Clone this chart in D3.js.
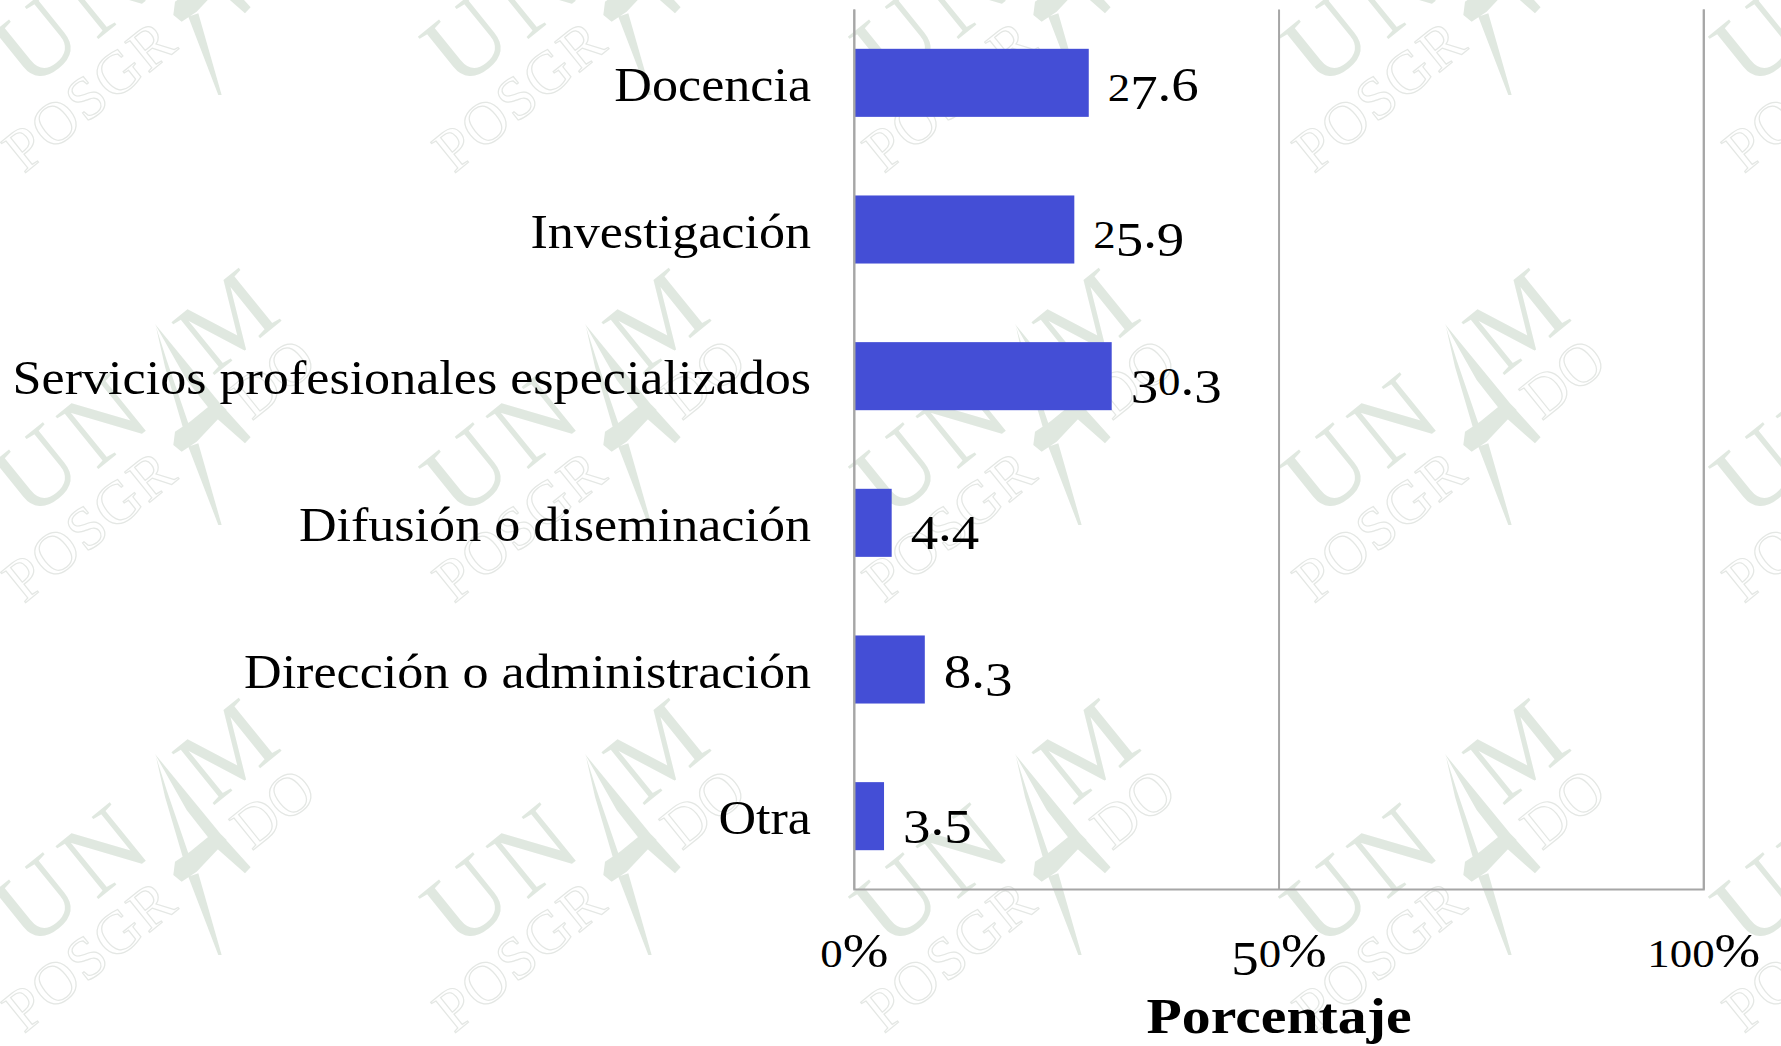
<!DOCTYPE html>
<html lang="es">
<head>
<meta charset="utf-8">
<script src="https://cdn.jsdelivr.net/npm/d3@7"></script>
<style>
html,body{margin:0;padding:0;background:#fff;}
svg{display:block;}
text{font-family:"Liberation Serif",serif;fill:#000;}
</style>
</head>
<body>
<svg id="chart" width="1781" height="1046"></svg>
<script>
const categories = ["Docencia","Investigación","Servicios profesionales especializados","Difusión o diseminación","Dirección o administración","Otra"];
const values = [27.6,25.9,30.3,4.4,8.3,3.5];
const tickValues = [0,50,100];
const axisTitle = "Porcentaje";

const W = 1781, H = 1046;
const svg = d3.select("#chart");
const x = d3.scaleLinear().domain([0,100]).range([854.3,1703.8]);
const y = d3.scaleBand().domain(categories).range([9.5,889.5]).paddingInner(0.536).paddingOuter(0.268);

// Watermark tiles
const green = "#e0e8e0", gray = "#e4e7e4";
const wm = svg.append("g").attr("class","watermark");
const tileOrigins = d3.cross(d3.range(0,5), [-180,250,680]);
tileOrigins.forEach(([i,oy])=>{
  const g = wm.append("g").attr("transform",`translate(${i*430},${oy})`);
  [["U",29,271],["N",96,221],["M",212,127]].forEach(([t,a,b])=>{
    g.append("text").text(t).attr("transform",`translate(${a},${b}) rotate(-39)`)
      .style("font-size","104px").style("fill",green);
  });
  [["POSGR",24,354,1.5],["DO",252,171,0]].forEach(([t,a,b,ls])=>{
    g.append("text").text(t).attr("transform",`translate(${a},${b}) rotate(-39)`)
      .style("font-size","60px").style("letter-spacing",ls+"px")
      .style("fill","none").style("stroke",gray).style("stroke-width",1.2);
  });
  g.append("path").attr("transform","scale(0.3333)").attr("fill",green)
    .attr("d","M465,222 L660,460 L752,562 L735,580 L650,505 L560,390 Z M468,230 L500,330 L565,520 L548,530 L495,350 Z M650,450 L680,480 L590,575 L545,605 L520,585 L525,545 L570,515 Z M565,590 L595,580 L665,825 L655,825 Z");
});

// Bars
svg.append("g").selectAll("rect").data(values).join("rect")
  .attr("x",x(0)+0.7)
  .attr("y",(d,i)=>y(categories[i]))
  .attr("width",d=>x(d)-x(0)-0.7)
  .attr("height",y.bandwidth())
  .attr("fill","#444ed6");

// Georgia-like old-style figures from lining glyphs
function oldStyle(sel, str){
  const big = 49, small = 40;
  let cur = 0;
  sel.text(null);
  Array.from(str).forEach((c,k)=>{
    let size = big, off = 0;
    if ("012".includes(c)) { size = small; }
    else if ("34579".includes(c)) { off = 8; }
    sel.append("tspan").text(c).style("font-size",size+"px").attr("dy",off-cur);
    cur = off;
  });
  // Georgia's figures are wider than the fallback's
  const n = sel.node();
  sel.attr("textLength",n.getComputedTextLength()*1.12).attr("lengthAdjust","spacingAndGlyphs");
}

// Axes
const xAxis = d3.axisBottom(x).tickValues(tickValues).tickFormat(d=>d+"%").tickSize(-(889.5-9.5)).tickPadding(0).offset(0);
const gx = svg.append("g").attr("transform","translate(0,889.5)").call(xAxis);
gx.select(".domain").attr("stroke","#a6a6a6").attr("stroke-width",2);
gx.selectAll(".tick line").attr("stroke","#a6a6a6").attr("stroke-width",2);
gx.selectAll(".tick text").attr("y",77).attr("dy",0).attr("text-anchor","middle")
  .each(function(d){ oldStyle(d3.select(this), d+"%"); });

const yAxis = d3.axisLeft(y).tickSize(0).tickPadding(0).offset(0);
const gy = svg.append("g").attr("transform","translate(811,0)").call(yAxis);
gy.select(".domain").remove();
gy.selectAll(".tick text").attr("dy",18).attr("text-anchor","end")
  .style("font-size","49px").style("font-family",'"Liberation Serif",serif')
  .attr("lengthAdjust","spacingAndGlyphs")
  .attr("textLength",function(){ return this.getComputedTextLength()*1.063; });

// Value labels
svg.append("g").selectAll("text").data(values).join("text")
  .attr("x",d=>x(d)+19)
  .attr("y",(d,i)=>y(categories[i])+y.bandwidth()/2+18.5)
  .each(function(d){ oldStyle(d3.select(this), d3.format(".1f")(d)); });

// Axis title
svg.append("text").text(axisTitle)
  .attr("x",x(50)).attr("y",1033).attr("text-anchor","middle")
  .attr("textLength",265).attr("lengthAdjust","spacingAndGlyphs")
  .style("font-size","50px").style("font-weight","bold");
</script>
</body>
</html>
